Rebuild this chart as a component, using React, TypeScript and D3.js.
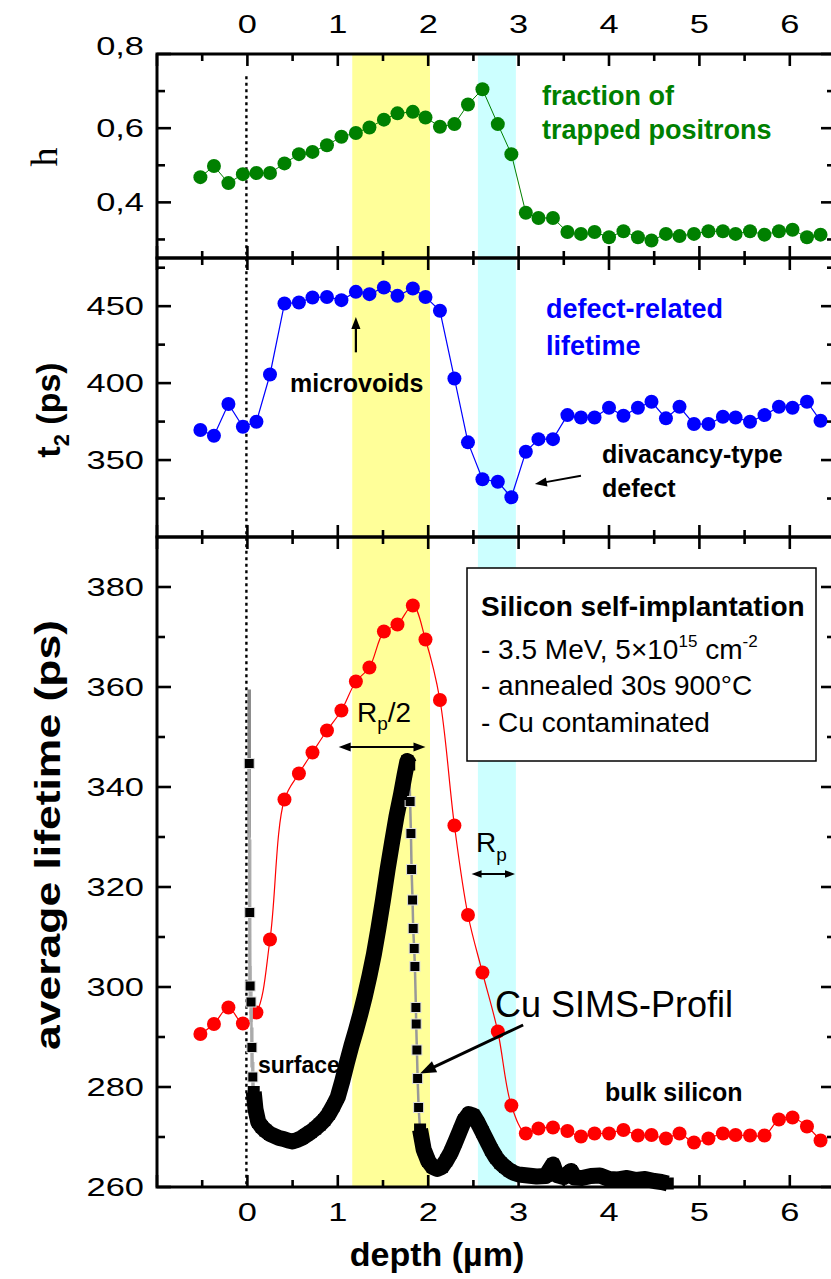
import React from "react";
import * as d3 from "d3";

const W = 831;
const H = 1279;
const FONT = "'Liberation Sans', Arial, Helvetica, sans-serif";

// Depth of every positron measurement (µm)
const depth = [
  -0.52, -0.37, -0.21, -0.05, 0.1, 0.25, 0.41, 0.57, 0.72, 0.88, 1.04, 1.2, 1.35, 1.51, 1.66,
  1.83, 1.97, 2.13, 2.29, 2.44, 2.6, 2.77, 2.92, 3.08, 3.22, 3.38, 3.54, 3.69, 3.84, 4.0, 4.16,
  4.32, 4.47, 4.63, 4.78, 4.94, 5.1, 5.26, 5.4, 5.56, 5.72, 5.88, 6.03, 6.19, 6.34,
];

// Fraction of trapped positrons h
const fractionH = [
  0.468, 0.498, 0.452, 0.476, 0.479, 0.479, 0.505, 0.53, 0.536, 0.554, 0.577, 0.587, 0.602, 0.623,
  0.64, 0.644, 0.629, 0.604, 0.611, 0.664, 0.705, 0.611, 0.53, 0.372, 0.358, 0.358, 0.32, 0.315,
  0.32, 0.306, 0.322, 0.306, 0.297, 0.315, 0.309, 0.315, 0.322, 0.322, 0.315, 0.322, 0.313, 0.322,
  0.326, 0.306, 0.313,
];

// Defect-related lifetime t2 (ps)
const lifetimeT2 = [
  369.5, 365.8, 386.4, 371.6, 374.9, 405.6, 451.7, 452.4, 455.6, 456.0, 453.9, 459.3, 457.8, 462.1,
  456.7, 461.5, 456.0, 447.0, 403.0, 361.5, 337.5, 335.9, 325.8, 355.4, 363.6, 363.6, 379.2, 377.7,
  377.7, 384.0, 378.8, 384.0, 387.9, 377.1, 384.6, 373.4, 373.4, 378.1, 377.7, 374.9, 379.2, 384.6,
  384.0, 387.9, 375.5,
];

// Average positron lifetime (ps)
const avgLifetime = [
  290.6, 292.6, 295.9, 292.7, 294.9, 309.5, 337.5, 342.7, 346.9, 351.3, 355.3, 361.1, 363.9, 371.1,
  372.5, 376.3, 369.5, 357.4, 332.3, 314.4, 302.9, 291.1, 276.3, 270.7, 271.7, 271.9, 271.2, 270.1,
  270.7, 270.7, 271.4, 270.3, 270.4, 269.7, 270.7, 268.9, 269.7, 270.7, 270.4, 270.3, 270.3, 273.5,
  273.9, 272.1, 269.3,
];

// Cu SIMS profile (plotted on the lifetime axis)
const simsSurfaceDepth = [0.02, 0.026, 0.03, 0.04, 0.05, 0.06];
const simsSurfaceValue = [344.7, 314.9, 300.2, 297.0, 287.9, 282.0];
const simsSurfaceError = [14.8, 14.6, 4, 4, 4, 3];

const simsRiseDepth = [
  0.07, 0.09, 0.12, 0.16, 0.2, 0.25, 0.3, 0.35, 0.4, 0.45, 0.5, 0.55, 0.6, 0.65, 0.7, 0.75, 0.8,
  0.85, 0.9, 0.95, 1.0, 1.05, 1.1, 1.15, 1.2, 1.25, 1.3, 1.35, 1.4, 1.45, 1.5, 1.55, 1.6, 1.65, 1.7,
  1.74, 1.77, 1.79,
];
const simsRiseValue = [
  279, 275.5, 273, 272, 271.3, 270.6, 270.2, 269.8, 269.6, 269.3, 269.1, 269.4, 269.8, 270.4, 271,
  271.7, 272.5, 273.4, 274.6, 276.2, 278, 281.2, 284.8, 288.2, 291.3, 294.6, 298.2, 302.2, 306.6,
  311.8, 317.4, 323.4, 328.9, 334.2, 338.6, 342.5, 345.2, 344.5,
];

const simsFallDepth = [1.8, 1.809, 1.816, 1.827, 1.834, 1.845, 1.853, 1.864, 1.867, 1.875, 1.883, 1.894];
const simsFallValue = [337.1, 330.7, 323.5, 317.4, 311.7, 307.7, 304.1, 295.9, 292.6, 287.4, 281.7, 275.9];

const simsTailDepth = [
  1.91, 1.95, 2.0, 2.05, 2.1, 2.15, 2.2, 2.25, 2.3, 2.35, 2.4, 2.45, 2.5, 2.55, 2.6, 2.65, 2.7, 2.75,
  2.8, 2.85, 2.9, 2.95, 3.0, 3.1, 3.2, 3.3, 3.38, 3.42, 3.5, 3.58, 3.62, 3.7, 3.8, 3.9, 4.0, 4.1,
  4.2, 4.3, 4.4, 4.5, 4.58, 4.65,
];
const simsTailValue = [
  271.5, 267.5, 265.2, 264, 263.6, 264, 265.3, 266.9, 269, 271.2, 273.4, 274.6, 274.3, 272.8, 271,
  269.2, 267.4, 265.9, 264.8, 264, 263.3, 262.8, 262.5, 262.3, 262.1, 262.2, 264.5, 262.4, 262,
  263.2, 261.9, 261.8, 262.2, 262.3, 261.6, 261.5, 261.8, 261.4, 261.6, 261.2, 261.0, 260.7,
];

// Highlighted depth ranges (µm)
const yellowBand = [1.16, 2.02];
const cyanBand = [2.55, 2.97];

// Tick values
const xMajor = [-1, 0, 1, 2, 3, 4, 5, 6];
const xMinor = [-0.5, 0.5, 1.5, 2.5, 3.5, 4.5, 5.5];
const xLabels = ["0", "1", "2", "3", "4", "5", "6"];
const hMajor = [0.4, 0.6, 0.8];
const hMinor = [0.3, 0.5, 0.7];
const hLabels = ["0,4", "0,6", "0,8"];
const t2Major = [350, 400, 450];
const t2Minor = [325, 375, 425, 475];
const avgMajor = [260, 280, 300, 320, 340, 360, 380];
const avgMinor = [270, 290, 310, 330, 350, 370];

const x = d3.scaleLinear().domain([-1, 6.5]).range([157, 835]);
const yH = d3.scaleLinear().domain([0.25, 0.8]).range([258, 54]);
const yT2 = d3.scaleLinear().domain([300, 481.3]).range([537, 258]);
const yAvg = d3.scaleLinear().domain([260, 390]).range([1187, 537]);

const LEFT = x(-1);
const RIGHT = x(6.5);
const TOP = yH(0.8);
const BOTTOM = yAvg(260);
const borders = [yH(0.8), yH(0.25), yT2(300), yAvg(260)];

function Arrow({ x1, y1, x2, y2, both = false, w = 2, head = 11 }) {
  const a = Math.atan2(y2 - y1, x2 - x1);
  const tri = (px, py, ang) => {
    const hw = head * 0.38;
    const bx = px - head * Math.cos(ang);
    const by = py - head * Math.sin(ang);
    return `${px},${py} ${bx - hw * Math.sin(ang)},${by + hw * Math.cos(ang)} ${bx + hw * Math.sin(ang)},${by - hw * Math.cos(ang)}`;
  };
  const sx = both ? x1 + head * 0.8 * Math.cos(a) : x1;
  const sy = both ? y1 + head * 0.8 * Math.sin(a) : y1;
  return (
    <g>
      <line x1={sx} y1={sy} x2={x2 - head * 0.8 * Math.cos(a)} y2={y2 - head * 0.8 * Math.sin(a)} stroke="#000" strokeWidth={w} />
      <polygon points={tri(x2, y2, a)} fill="#000" />
      {both && <polygon points={tri(x1, y1, a + Math.PI)} fill="#000" />}
    </g>
  );
}

function TickLabel({ px, py, text, anchor }) {
  return (
    <text
      transform={`translate(${px},${py}) scale(1.35,1)`}
      textAnchor={anchor}
      fontFamily={FONT}
      fontSize={25.5}
      dominantBaseline="central"
      fill="#000"
    >
      {text}
    </text>
  );
}

export default function App() {
  const pts = depth.map((d, i) => ({ d, h: fractionH[i], t: lifetimeT2[i], a: avgLifetime[i] }));
  const lineH = d3.line().x((p) => x(p.d)).y((p) => yH(p.h));
  const lineT = d3.line().x((p) => x(p.d)).y((p) => yT2(p.t));
  const lineA = d3.line().x((p) => x(p.d)).y((p) => yAvg(p.a)).curve(d3.curveCatmullRom.alpha(0.5));
  const simsLine = d3.line().x((p) => x(p[0])).y((p) => yAvg(p[1]));
  const rise = simsRiseDepth.map((d, i) => [d, simsRiseValue[i]]);
  const fall = simsFallDepth.map((d, i) => [d, simsFallValue[i]]);
  const tail = simsTailDepth.map((d, i) => [d, simsTailValue[i]]);
  const surf = simsSurfaceDepth.map((d, i) => [d, simsSurfaceValue[i]]);
  const sq = 10;

  const tickW = 2.6;
  const xTickMarks = [];
  borders.forEach((by, bi) => {
    const dirs = bi === 0 ? [1] : bi === 3 ? [-1] : [-1, 1];
    dirs.forEach((dir) => {
      xMajor.forEach((v) =>
        xTickMarks.push(<line key={`M${bi}${dir}${v}`} x1={x(v)} x2={x(v)} y1={by} y2={by + dir * 12} stroke="#000" strokeWidth={tickW} />)
      );
      xMinor.forEach((v) =>
        xTickMarks.push(<line key={`m${bi}${dir}${v}`} x1={x(v)} x2={x(v)} y1={by} y2={by + dir * 7} stroke="#000" strokeWidth={tickW} />)
      );
    });
  });

  const yTickMarks = [];
  const addY = (scale, major, minor, key) => {
    major.forEach((v) => {
      yTickMarks.push(<line key={`${key}L${v}`} x1={LEFT} x2={LEFT + 14} y1={scale(v)} y2={scale(v)} stroke="#000" strokeWidth={tickW} />);
      yTickMarks.push(<line key={`${key}R${v}`} x1={RIGHT} x2={RIGHT - 14} y1={scale(v)} y2={scale(v)} stroke="#000" strokeWidth={tickW} />);
    });
    minor.forEach((v) => {
      yTickMarks.push(<line key={`${key}l${v}`} x1={LEFT} x2={LEFT + 8} y1={scale(v)} y2={scale(v)} stroke="#000" strokeWidth={tickW} />);
      yTickMarks.push(<line key={`${key}r${v}`} x1={RIGHT} x2={RIGHT - 8} y1={scale(v)} y2={scale(v)} stroke="#000" strokeWidth={tickW} />);
    });
  };
  addY(yH, hMajor, hMinor, "h");
  addY(yT2, t2Major, t2Minor, "t");
  addY(yAvg, avgMajor, avgMinor, "a");

  return (
    <svg width={W} height={H} viewBox={`0 0 ${W} ${H}`} style={{ position: "absolute", left: 0, top: 0, background: "#fff" }}>
      <rect x={0} y={0} width={W} height={H} fill="#fff" />

      {/* highlighted depth ranges */}
      <rect x={x(yellowBand[0])} y={TOP} width={x(yellowBand[1]) - x(yellowBand[0])} height={BOTTOM - TOP} fill="#FFFF99" />
      <rect x={x(cyanBand[0])} y={TOP} width={x(cyanBand[1]) - x(cyanBand[0])} height={BOTTOM - TOP} fill="#CCFFFF" />

      {/* surface position */}
      <line x1={x(0) - 1} x2={x(0) - 1} y1={yH(0.74)} y2={BOTTOM} stroke="#000" strokeWidth={2.4} strokeDasharray="3,3.5" />

      {/* fraction of trapped positrons */}
      <path d={lineH(pts)} fill="none" stroke="#008000" strokeWidth={1} />
      {pts.map((p, i) => (
        <circle key={`g${i}`} cx={x(p.d)} cy={yH(p.h)} r={7} fill="#008000" />
      ))}

      {/* defect-related lifetime */}
      <path d={lineT(pts)} fill="none" stroke="#0000FF" strokeWidth={1.2} />
      {pts.map((p, i) => (
        <circle key={`b${i}`} cx={x(p.d)} cy={yT2(p.t)} r={7} fill="#0000FF" />
      ))}

      {/* average lifetime */}
      <path d={lineA(pts)} fill="none" stroke="#FF0000" strokeWidth={1.2} />
      {pts.map((p, i) => (
        <circle key={`r${i}`} cx={x(p.d)} cy={yAvg(p.a)} r={7} fill="#FF0000" />
      ))}

      {/* Cu SIMS profile */}
      {surf.map((p, i) => (
        <line
          key={`e${i}`}
          x1={x(p[0])}
          x2={x(p[0])}
          y1={yAvg(p[1] + simsSurfaceError[i])}
          y2={yAvg(p[1] - simsSurfaceError[i])}
          stroke={i === 0 ? "#888" : "#bbb"}
          strokeWidth={3.5}
        />
      ))}
      <path d={simsLine([...surf, rise[0]])} fill="none" stroke="#aaa" strokeWidth={2.5} />
      <path d={simsLine([rise[rise.length - 1], ...fall, tail[0]])} fill="none" stroke="#999" strokeWidth={2.5} />
      <path d={simsLine(rise)} fill="none" stroke="#000" strokeWidth={16} strokeLinejoin="round" />
      <path d={simsLine(tail)} fill="none" stroke="#000" strokeWidth={16} strokeLinejoin="round" />
      {[...surf, ...fall].map((p, i) => (
        <rect key={`s${i}`} x={x(p[0]) - sq / 2} y={yAvg(p[1]) - sq / 2} width={sq} height={sq} fill="#000" stroke="#ddd" strokeWidth={1} />
      ))}
      {[...rise, ...tail].map((p, i) => (
        <rect key={`q${i}`} x={x(p[0]) - sq / 2 - 1} y={yAvg(p[1]) - sq / 2 - 1} width={sq + 2} height={sq + 2} fill="#000" />
      ))}

      {/* frames */}
      <g fill="none" stroke="#000" strokeWidth={3}>
        <rect x={LEFT} y={yH(0.8)} width={RIGHT - LEFT} height={yH(0.25) - yH(0.8)} />
        <rect x={LEFT} y={yT2(481.3)} width={RIGHT - LEFT} height={yT2(300) - yT2(481.3)} />
        <rect x={LEFT} y={yAvg(390)} width={RIGHT - LEFT} height={yAvg(260) - yAvg(390)} />
      </g>
      {xTickMarks}
      {yTickMarks}

      {/* tick labels */}
      {xLabels.map((l, i) => (
        <TickLabel key={`xt${l}`} px={x(i)} py={24} text={l} anchor="middle" />
      ))}
      {xLabels.map((l, i) => (
        <TickLabel key={`xb${l}`} px={x(i)} py={1212} text={l} anchor="middle" />
      ))}
      {hMajor.map((v, i) => (
        <TickLabel key={`hl${v}`} px={144} py={yH(v) - (v === 0.8 ? 8 : 0)} text={hLabels[i]} anchor="end" />
      ))}
      {t2Major.map((v) => (
        <TickLabel key={`tl${v}`} px={144} py={yT2(v)} text={String(v)} anchor="end" />
      ))}
      {avgMajor.map((v) => (
        <TickLabel key={`al${v}`} px={144} py={yAvg(v)} text={String(v)} anchor="end" />
      ))}

      {/* axis titles */}
      <text transform="translate(57,157) rotate(-90)" textAnchor="middle" fontFamily="'Liberation Serif', 'Times New Roman', serif" fontSize={38}>
        h
      </text>
      <text transform="translate(60,410) rotate(-90)" textAnchor="middle" fontFamily={FONT} fontSize={34} fontWeight="bold">
        t<tspan fontSize={22} dy={9}>2</tspan>
        <tspan dy={-9}> (ps)</tspan>
      </text>
      <text
        transform="translate(60,835) rotate(-90)"
        textAnchor="middle"
        fontFamily={FONT}
        fontSize={35}
        fontWeight="bold"
        textLength={430}
        lengthAdjust="spacingAndGlyphs"
      >
        average lifetime (ps)
      </text>
      <text x={437} y={1266} textAnchor="middle" fontFamily={FONT} fontSize={34} fontWeight="bold">
        depth (µm)
      </text>

      {/* panel annotations */}
      <g fontFamily={FONT} fontWeight="bold" fill="#008000" fontSize={27}>
        <text x={542} y={105}>fraction of</text>
        <text x={542} y={139}>trapped positrons</text>
      </g>
      <g fontFamily={FONT} fontWeight="bold" fill="#0000FF" fontSize={27}>
        <text x={546} y={318}>defect-related</text>
        <text x={546} y={355}>lifetime</text>
      </g>
      <g fontFamily={FONT} fontWeight="bold" fill="#000" fontSize={25}>
        <text x={290} y={392}>microvoids</text>
        <text x={602} y={463}>divacancy-type</text>
        <text x={602} y={497}>defect</text>
        <text x={258} y={1073} fontSize={23}>surface</text>
        <text x={605} y={1101}>bulk silicon</text>
      </g>
      <Arrow x1={x(1.2)} y1={yT2(420)} x2={x(1.2)} y2={yT2(443)} w={2.2} head={12} />
      <Arrow x1={x(3.69)} y1={yT2(339.8)} x2={x(3.18)} y2={yT2(334.4)} w={2} head={12} />

      {/* implantation ranges */}
      <text x={357} y={722} fontFamily={FONT} fontSize={28}>
        R<tspan fontSize={19} dy={8}>p</tspan>
        <tspan dy={-8}>/2</tspan>
      </text>
      <Arrow x1={x(1.01)} y1={yAvg(348)} x2={x(1.97)} y2={yAvg(348)} both w={2} head={12} />
      <text x={476} y={852} fontFamily={FONT} fontSize={28}>
        R<tspan fontSize={19} dy={9}>p</tspan>
      </text>
      <Arrow x1={x(2.48)} y1={yAvg(322.6)} x2={x(2.96)} y2={yAvg(322.6)} both w={2} head={10} />

      {/* SIMS label */}
      <text x={495} y={1017} fontFamily={FONT} fontSize={36}>
        Cu SIMS-Profil
      </text>
      <Arrow x1={x(3.05)} y1={yAvg(292.4)} x2={x(1.91)} y2={yAvg(282.7)} w={3} head={16} />

      {/* sample description */}
      <rect x={467} y={568} width={349} height={193} fill="#fff" stroke="#000" strokeWidth={1.5} />
      <g fontFamily={FONT} fontSize={28} fill="#000">
        <text x={481} y={616} fontWeight="bold">
          Silicon self-implantation
        </text>
        <text x={481} y={659}>
          - 3.5 MeV, 5×10<tspan fontSize={17} dy={-12}>15</tspan>
          <tspan dy={12}> cm</tspan>
          <tspan fontSize={17} dy={-12}>-2</tspan>
        </text>
        <text x={481} y={695}>- annealed 30s 900°C</text>
        <text x={481} y={732}>- Cu contaminated</text>
      </g>
    </svg>
  );
}
